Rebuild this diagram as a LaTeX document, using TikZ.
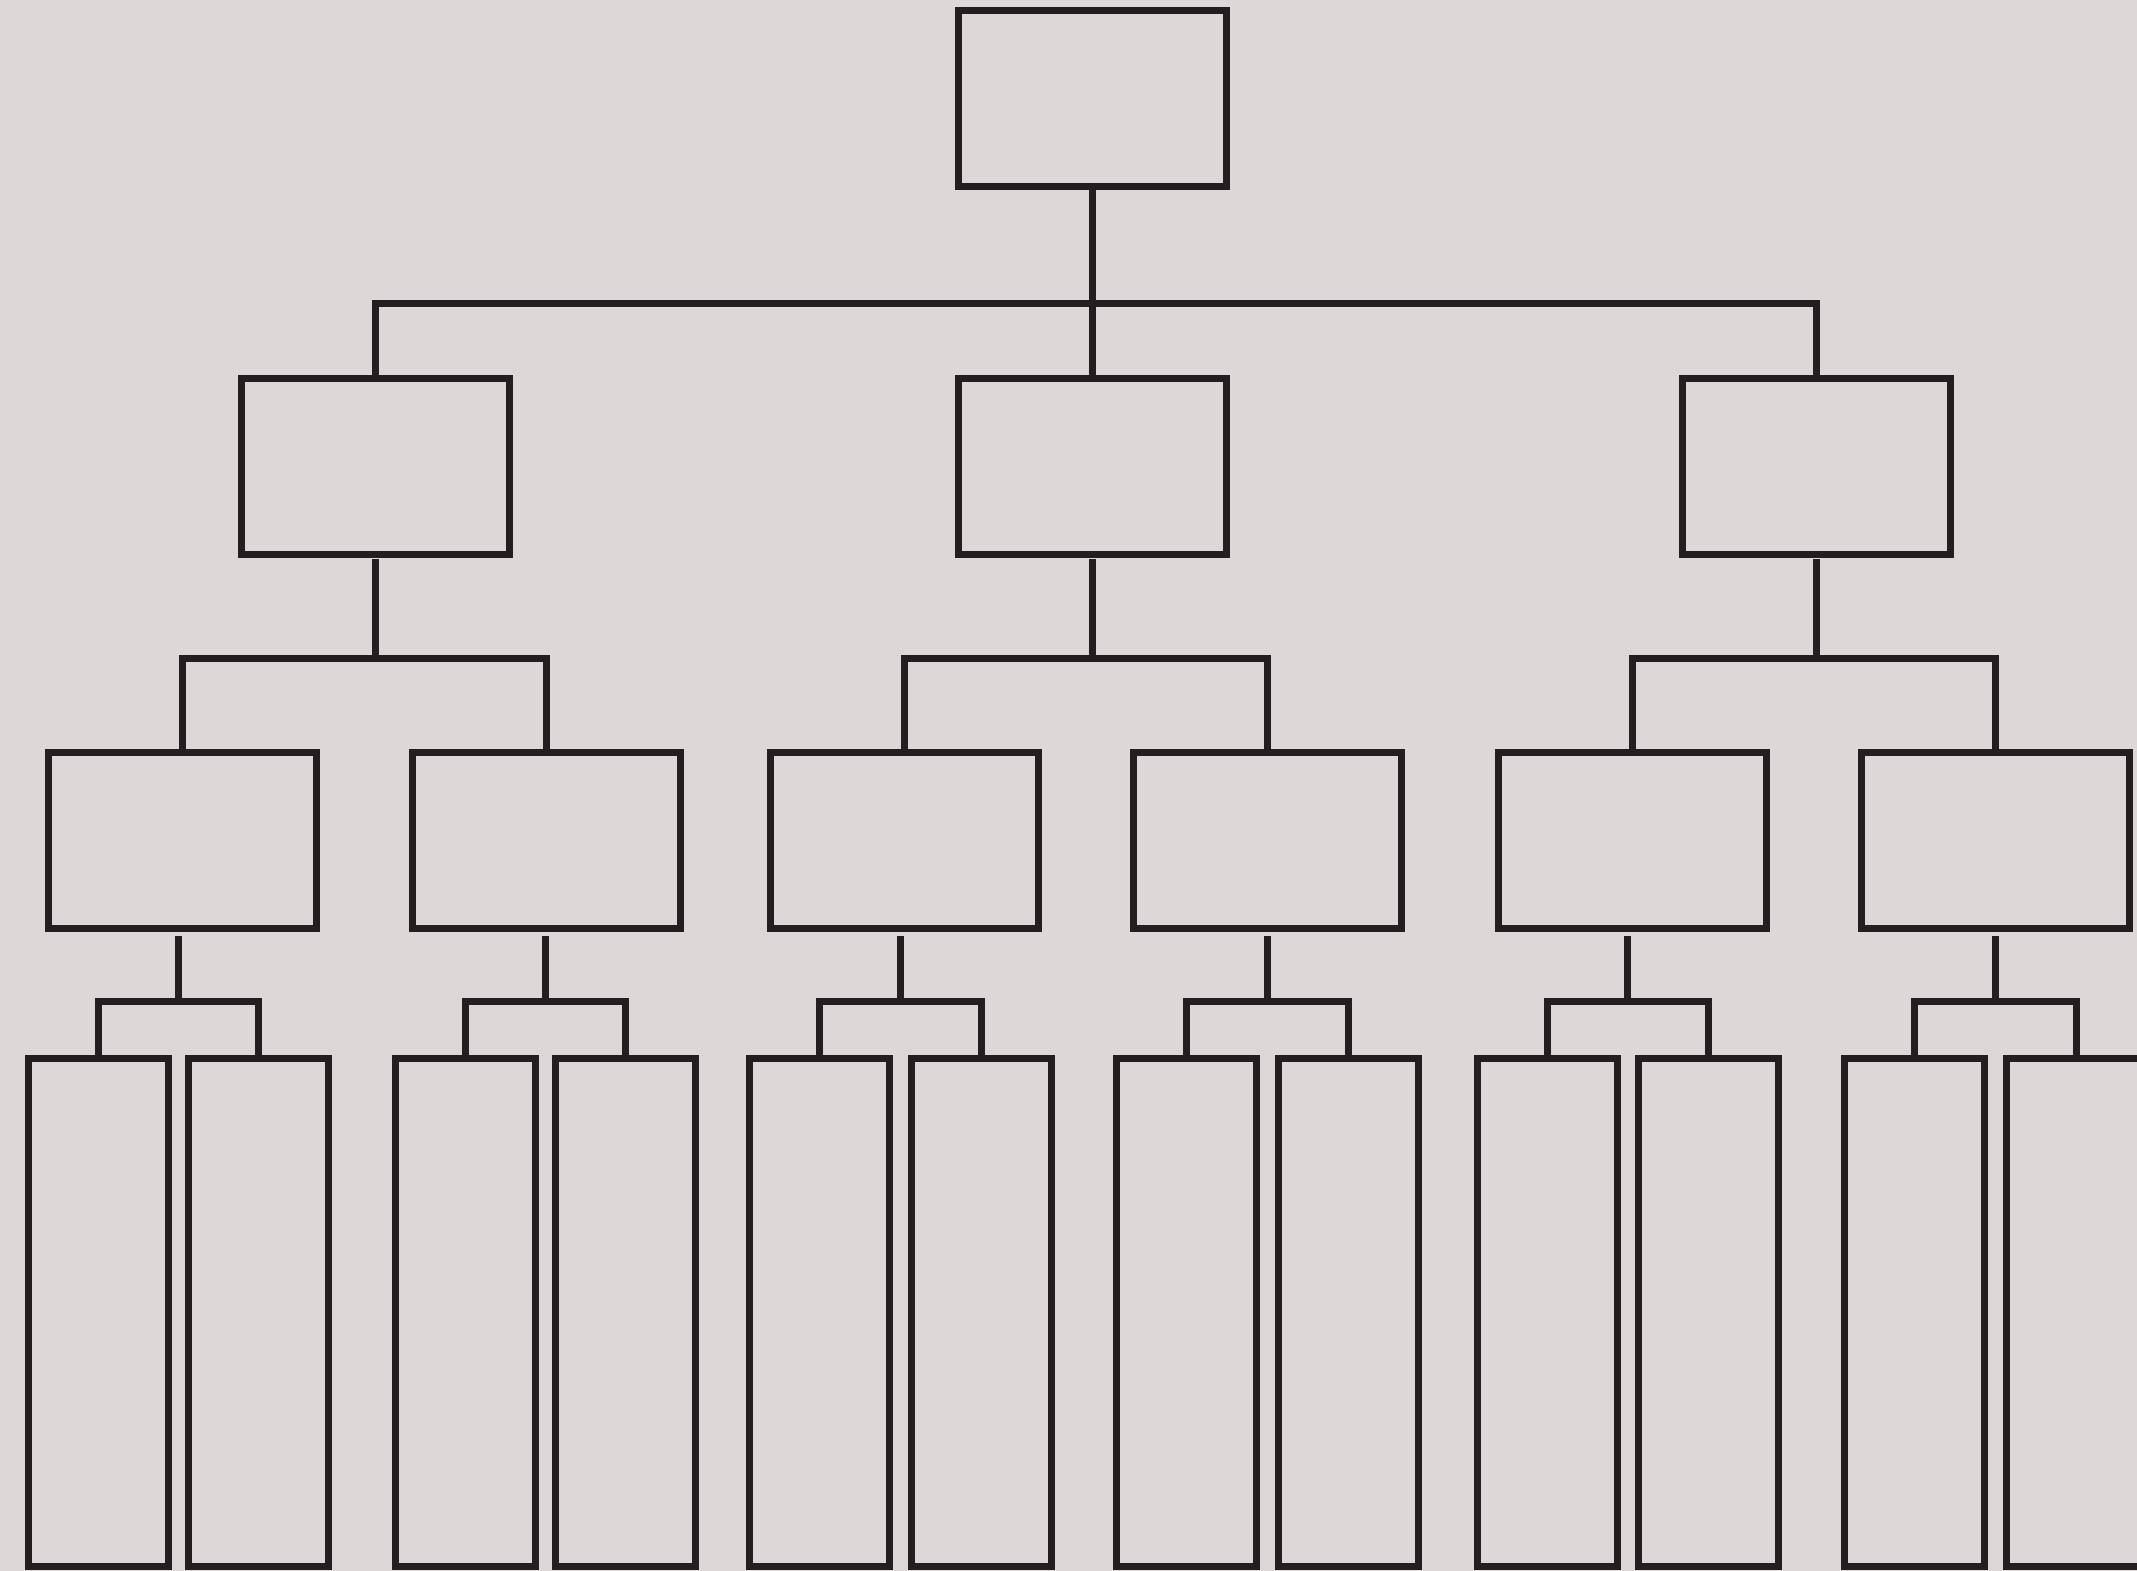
\documentclass[tikz,border=0pt]{standalone}
\usetikzlibrary{calc}
\definecolor{bg}{HTML}{DCD8D7}
\definecolor{ink}{HTML}{231F20}
\tikzset{
  box/.style={draw=ink, line width=7pt, inner sep=0pt, outer sep=0pt,
              minimum width=268pt, minimum height=176pt},
  leafbox/.style={box, minimum width=140pt, minimum height=508pt},
  link/.style={draw=ink, line width=7pt},
  stem/.style={link, shorten <=8pt}
}
\begin{document}
\begin{tikzpicture}[x=1pt, y=-1pt]
\useasboundingbox (0,0) rectangle (2137,1571);
\fill[bg] (0,0) rectangle (2137,1571);
\clip (0,0) rectangle (2137,1571);

% level 1
\node[box, minimum height=175pt] (T) at (1092,98.5) {};
% level 2
\node[box] (L) at (375,466) {};
\node[box] (M) at (1092,466) {};
\node[box] (R) at (1816,466) {};
% level 3
\node[box] (A) at (182.5,840) {};
\node[box] (B) at (546,840) {};
\node[box] (C) at (904.5,840) {};
\node[box] (D) at (1267,840) {};
\node[box] (E) at (1632,840) {};
\node[box] (F) at (1995.5,840) {};
% level 4
\node[leafbox] (A1) at (98.5,1312) {};
\node[leafbox] (A2) at (258.5,1312) {};
\node[leafbox] (B1) at (465,1312) {};
\node[leafbox] (B2) at (625.5,1312) {};
\node[leafbox] (C1) at (819,1312) {};
\node[leafbox] (C2) at (981,1312) {};
\node[leafbox] (D1) at (1186.5,1312) {};
\node[leafbox] (D2) at (1348,1312) {};
\node[leafbox] (E1) at (1547,1312) {};
\node[leafbox] (E2) at (1708,1312) {};
\node[leafbox] (F1) at (1914.5,1312) {};
\node[leafbox] (F2) at (2076,1312) {};

% level 1 -> 2
\coordinate (bT) at (1092,303);
\draw[link] (L.north) |- (bT) -| (R.north);
\draw[link] (T.south) -- (M.north);

% level 2 -> 3
\coordinate (bL) at (375,658);
\coordinate (bM) at (1092,658);
\coordinate (bR) at (1816,658);
\draw[link] (A.north) |- (bL) -| (B.north);
\draw[link] (C.north) |- (bM) -| (D.north);
\draw[link] (E.north) |- (bR) -| (F.north);
\draw[stem, shorten <=5pt] (L.south) -- (bL);
\draw[stem, shorten <=5pt] (M.south) -- (bM);
\draw[stem, shorten <=5pt] (R.south) -- (bR);

% level 3 -> 4
\foreach \p in {A,B,C,D,E,F}{
  \coordinate (b\p) at ($(\p1.north)!0.5!(\p2.north)$);
  \coordinate (b\p) at (b\p |- 0,1001);
  \draw[link] (\p1.north) |- (b\p) -| (\p2.north);
  \draw[stem] (\p.south -| b\p) -- (b\p);
}
\end{tikzpicture}
\end{document}
